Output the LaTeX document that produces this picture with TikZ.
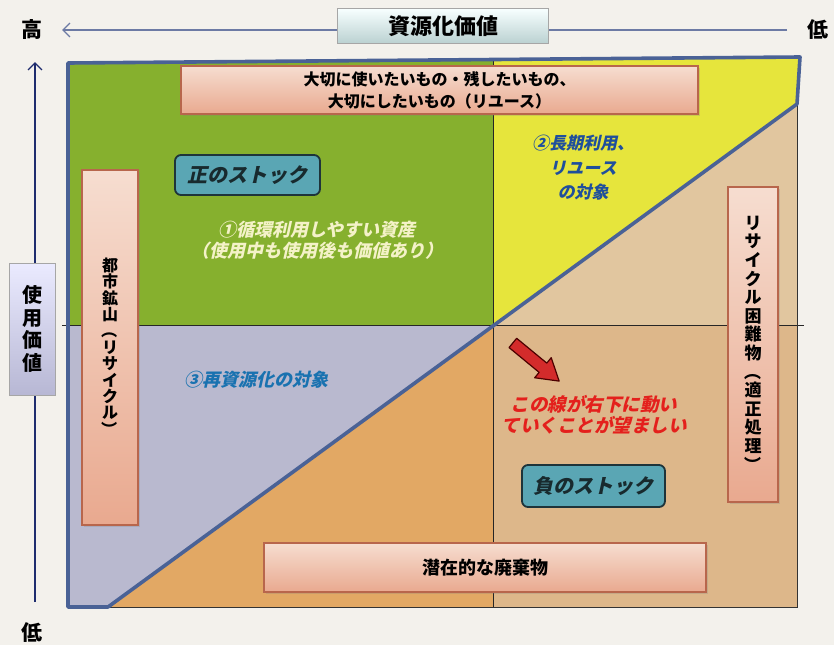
\documentclass[tikz,border=0pt]{standalone}
\usepackage{fontspec}
\setmainfont{Noto Sans CJK JP}
\newfontfamily\jpsl{Noto Sans CJK JP}[FakeSlant=0.22]
\usetikzlibrary{arrows.meta,shadows}
\definecolor{paper}{HTML}{F3F1EC}
\definecolor{qgreen}{HTML}{86B02E}
\definecolor{qyellow}{HTML}{E6E53C}
\definecolor{qlav}{HTML}{B9B9CF}
\definecolor{qtanup}{HTML}{E1C69F}
\definecolor{qtanlow}{HTML}{DDB78A}
\definecolor{qorange}{HTML}{E2A864}
\definecolor{framecol}{HTML}{4A6296}
\definecolor{pinktop}{HTML}{F6DDD0}
\definecolor{pinkbot}{HTML}{E9A98F}
\definecolor{pinkedge}{HTML}{B8664C}
\definecolor{tealfill}{HTML}{5AA6B4}
\definecolor{tealedge}{HTML}{1E343A}
\definecolor{bluetext}{HTML}{1F4F9C}
\definecolor{paletext}{HTML}{F4F2C8}
\definecolor{redtext}{HTML}{E4201C}
\definecolor{arrowred}{HTML}{D32B2B}
\definecolor{axisline}{HTML}{1E2C6E}
\definecolor{axisline2}{HTML}{6C7AA4}
\newcommand{\vlp}{\rotatebox[origin=c]{-90}{（}}
\newcommand{\vrp}{\rotatebox[origin=c]{-90}{）}}
\tikzset{
  pinkbox/.style={draw=pinkedge, line width=1.2pt, top color=pinktop, bottom color=pinkbot,
    inner sep=0pt, align=center, font=\bfseries, drop shadow={opacity=0.25, shadow xshift=1.5pt, shadow yshift=-1.5pt}},
  axisbox/.style={draw=gray!70, line width=1pt, inner sep=0pt, align=center, font=\bfseries},
  stockbox/.style={draw=tealedge, line width=1.8pt, fill=tealfill, rounded corners=6pt,
    inner sep=0pt, text=tealedge!80!black},
  lbl/.style={inner sep=0pt, align=center},
}
\begin{document}
\begin{tikzpicture}[x=1pt,y=-1pt]
\useasboundingbox (0,0) rectangle (834,645);
\fill[paper] (0,0) rectangle (834,645);
% quadrant fills
\fill[qgreen] (68,63) -- (493,59.5) -- (493,325) -- (68,325) -- cycle;
\fill[qyellow] (493,59.5) -- (800,57) -- (797,104) -- (493,326) -- cycle;
\fill[qlav] (68,325) -- (494,325) -- (108,607) -- (68,607) -- cycle;
\fill[qtanup] (797,104) -- (797,325) -- (494,325) -- cycle;
\fill[qtanlow] (493,325) rectangle (797,607);
\fill[qorange] (494,325) -- (493,607) -- (108,607) -- cycle;
% dividers
\draw[gray!30!black, line width=0.7pt] (493,59.5) -- (493,607);
\draw[gray!30!black, line width=0.7pt] (62,325) -- (804,325);
% thin edges of lower region
\draw[gray!40!black, line width=0.9pt] (797,104) -- (797,607) -- (108,607);
% thick frame
\draw[framecol, line width=3.6pt, line join=round] (68,63) -- (800,57) -- (797,104) -- (108,607) -- (68,607) -- cycle;

% axes
\node[lbl, font=\bfseries\fontsize{21}{21}\selectfont] (high) at (32,30) {高};
\node[lbl, font=\bfseries\fontsize{21}{21}\selectfont] (lowR) at (818,30) {低};
\node[lbl, font=\bfseries\fontsize{21}{21}\selectfont] (lowB) at (32,633) {低};
\coordinate (hstart) at (787,30);
\coordinate (htip) at (62,30);
\coordinate (vstart) at (35,602);
\coordinate (vtip) at (35,62);
\draw[axisline2, line width=1.6pt, -{Straight Barb[length=7pt,width=14pt,line width=1.4pt]}] (hstart) -- (htip);
\draw[axisline, line width=1.6pt, -{Straight Barb[length=7pt,width=14pt,line width=1.4pt]}] (vstart) -- (vtip);
\node[axisbox, top color=white!85!cyan!20, bottom color=cyan!20!gray!45, minimum width=211pt, minimum height=35pt,
  font=\bfseries\fontsize{22}{22}\selectfont] (recval) at (443,26) {資源化価値};
\node[axisbox, top color=blue!8!white, bottom color=blue!25!gray!45, minimum width=46pt, minimum height=132pt,
  font=\bfseries\fontsize{20}{22.7}\selectfont] (useval) at (32,329) {使\\用\\価\\値};

% boxes
\node[pinkbox, minimum width=517pt, minimum height=48pt, font=\bfseries\fontsize{16}{22}\selectfont] (reuse) at (439.5,90)
  {大切に使いたいもの・残したいもの、\\大切にしたいもの（リユース）};
\node[pinkbox, minimum width=56pt, minimum height=355pt, font=\bfseries\fontsize{16}{16.4}\selectfont] (urban) at (110,347.5)
  {都\\市\\鉱\\山\\\vlp\\リ\\サ\\イ\\ク\\ル\\\vrp};
\node[pinkbox, minimum width=50pt, minimum height=315pt, font=\bfseries\fontsize{17}{18.6}\selectfont] (hard) at (753,344.5)
  {リ\\サ\\イ\\ク\\ル\\困\\難\\物\\\vlp\\適\\正\\処\\理\\\vrp};
\node[pinkbox, minimum width=442pt, minimum height=49pt, font=\bfseries\fontsize{18}{18}\selectfont] (waste) at (485,567.5)
  {潜在的な廃棄物};
\node[stockbox, minimum width=145pt, minimum height=40pt, font=\jpsl\bfseries\fontsize{20}{20}\selectfont] (pos) at (247.5,175) {正のストック};
\node[stockbox, minimum width=143pt, minimum height=42pt, font=\jpsl\bfseries\fontsize{20}{20}\selectfont] (neg) at (593.5,486) {負のストック};

% quadrant labels
\node[lbl, text=paletext, font=\jpsl\bfseries\fontsize{18}{21}\selectfont] (q1) at (317,240)
  {①循環利用しやすい資産\\（使用中も使用後も価値あり）};
\node[lbl, text=bluetext, font=\jpsl\bfseries\fontsize{17}{24.5}\selectfont] (q2) at (583,168)
  {②長期利用、\\リユース\\の対象};
\node[lbl, text=bluetext!80!cyan, font=\jpsl\bfseries\fontsize{18}{18}\selectfont] (q3) at (256,380)
  {③再資源化の対象};
\node[lbl, text=redtext, font=\jpsl\bfseries\fontsize{18.5}{21}\selectfont] (move) at (594,415)
  {この線が右下に動い\\ていくことが望ましい};

% red arrow
\begin{scope}[shift={(536,362)}, rotate=-39.5]
\filldraw[fill=arrowred, draw=black!70!red, line width=1.2pt, line join=round]
  (-30,-6) -- (9,-6) -- (9,-13) -- (30,0) -- (9,13) -- (9,6) -- (-30,6) -- cycle;
\end{scope}
\end{tikzpicture}
\end{document}
